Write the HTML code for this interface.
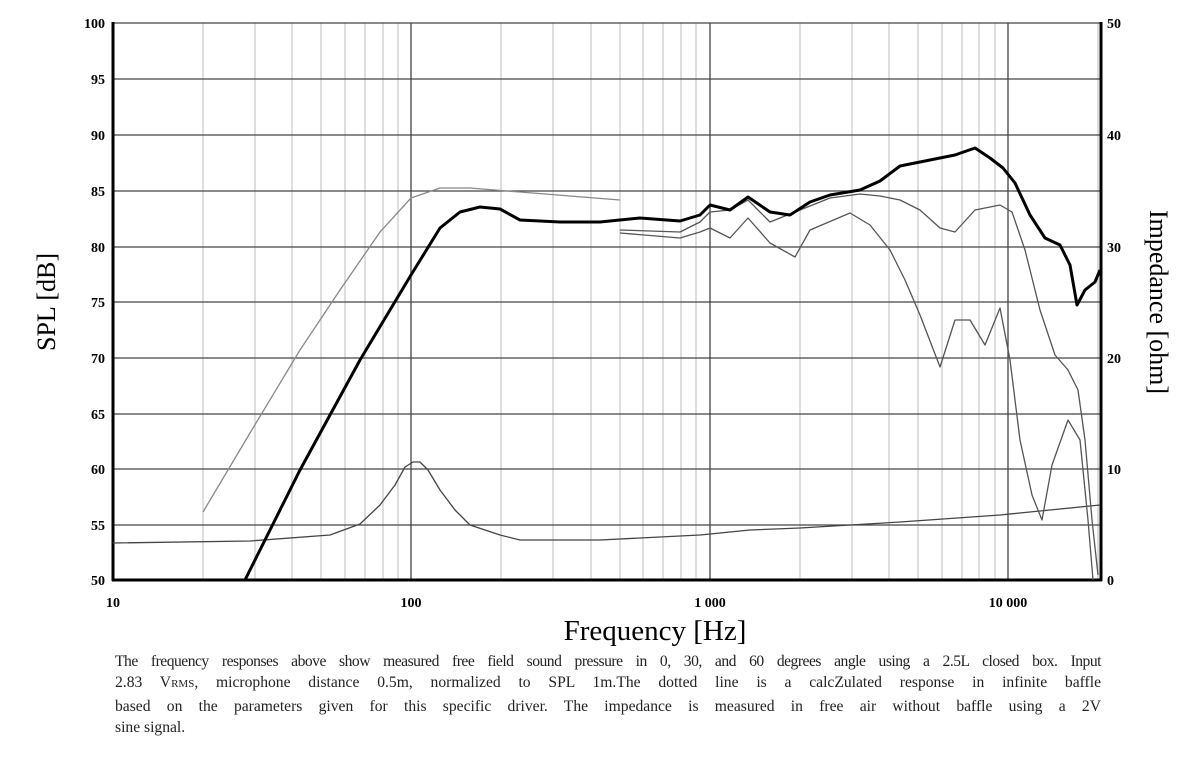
<!DOCTYPE html>
<html><head><meta charset="utf-8"><style>
body{margin:0;background:#fff;width:1179px;height:767px;overflow:hidden;font-family:"Liberation Serif",serif}
.cap{position:absolute;left:115px;top:651px;width:986px;font-size:15.6px;line-height:21.3px;color:#222}
.cap div{text-align:justify;text-align-last:justify;white-space:nowrap}
.cap div.l{text-align-last:left}
</style></head><body>
<svg width="1179" height="767" style="position:absolute;left:0;top:0" font-family="Liberation Serif, serif">
<g stroke="#ccc" stroke-width="1.3">
<line x1="203" y1="23" x2="203" y2="580"/><line x1="255" y1="23" x2="255" y2="580"/><line x1="292" y1="23" x2="292" y2="580"/><line x1="321" y1="23" x2="321" y2="580"/><line x1="345" y1="23" x2="345" y2="580"/><line x1="365" y1="23" x2="365" y2="580"/><line x1="383" y1="23" x2="383" y2="580"/><line x1="398" y1="23" x2="398" y2="580"/>
<line x1="501" y1="23" x2="501" y2="580"/><line x1="553" y1="23" x2="553" y2="580"/><line x1="591" y1="23" x2="591" y2="580"/><line x1="620" y1="23" x2="620" y2="580"/><line x1="643" y1="23" x2="643" y2="580"/><line x1="663" y1="23" x2="663" y2="580"/><line x1="681" y1="23" x2="681" y2="580"/><line x1="696" y1="23" x2="696" y2="580"/>
<line x1="800" y1="23" x2="800" y2="580"/><line x1="852" y1="23" x2="852" y2="580"/><line x1="889" y1="23" x2="889" y2="580"/><line x1="918" y1="23" x2="918" y2="580"/><line x1="942" y1="23" x2="942" y2="580"/><line x1="962" y1="23" x2="962" y2="580"/><line x1="979" y1="23" x2="979" y2="580"/><line x1="995" y1="23" x2="995" y2="580"/>
<line x1="1098" y1="23" x2="1098" y2="580"/>
</g>
<g stroke="#444" stroke-width="1.3">
<line x1="411" y1="23" x2="411" y2="580"/><line x1="710" y1="23" x2="710" y2="580"/><line x1="1008" y1="23" x2="1008" y2="580"/>
<line x1="113" y1="23" x2="1100" y2="23"/><line x1="113" y1="79" x2="1100" y2="79"/><line x1="113" y1="135" x2="1100" y2="135"/><line x1="113" y1="191" x2="1100" y2="191"/><line x1="113" y1="247" x2="1100" y2="247"/><line x1="113" y1="302" x2="1100" y2="302"/><line x1="113" y1="358" x2="1100" y2="358"/><line x1="113" y1="414" x2="1100" y2="414"/><line x1="113" y1="469" x2="1100" y2="469"/><line x1="113" y1="525" x2="1100" y2="525"/>
</g>
<g stroke="#000" stroke-width="3" fill="none">
<line x1="113" y1="22" x2="113" y2="581"/><line x1="1101" y1="22" x2="1101" y2="581"/><line x1="112" y1="580" x2="1102" y2="580"/>
</g>
<g fill="none" stroke-linejoin="round">
<polyline stroke="#888" stroke-width="1.3" points="203,512 250,433 300,350 340,290 380,232 411,198 440,188 470,188 520,192 620,200"/>
<polyline stroke="#444" stroke-width="1.3" points="113,543 250,541 330,535 360,524 380,505 395,485 405,467 413,462 420,462 428,470 440,490 455,510 470,525 500,535 520,540 600,540 700,535 750,530 800,528 900,522 1000,515 1100,505"/>
<polyline stroke="#555" stroke-width="1.3" points="620,230 680,232 700,222 710,212 730,210 748,200 770,222 800,210 830,198 860,194 880,196 900,200 920,210 940,228 955,232 975,210 1000,205 1012,212 1025,250 1040,310 1055,355 1068,370 1078,390 1085,440 1092,520 1098,575"/>
<polyline stroke="#555" stroke-width="1.3" points="620,233 680,238 700,232 710,228 730,238 748,218 770,243 795,257 810,230 850,213 870,225 890,250 905,280 920,315 940,367 955,320 970,320 985,345 1000,308 1010,360 1020,440 1032,495 1042,520 1052,465 1068,420 1080,440 1088,520 1093,580"/>
<polyline stroke="#000" stroke-width="3" points="245,580 270,530 300,470 330,415 360,360 390,310 411,275 440,228 460,212 480,207 500,209 520,220 560,222 600,222 640,218 680,221 700,215 710,205 730,210 748,197 770,212 790,215 810,202 830,195 860,190 880,181 900,166 930,160 955,155 975,148 990,158 1003,168 1015,183 1030,215 1045,238 1060,245 1070,265 1077,305 1085,290 1095,282 1100,270"/>
</g>
<g font-weight="bold" font-size="14" text-anchor="end">
<text x="105" y="28">100</text><text x="105" y="84">95</text><text x="105" y="140">90</text><text x="105" y="196">85</text><text x="105" y="252">80</text><text x="105" y="307">75</text><text x="105" y="363">70</text><text x="105" y="419">65</text><text x="105" y="474">60</text><text x="105" y="530">55</text><text x="105" y="585">50</text>
</g>
<g font-weight="bold" font-size="14">
<text x="1107" y="28">50</text><text x="1107" y="140">40</text><text x="1107" y="252">30</text><text x="1107" y="363">20</text><text x="1107" y="474">10</text><text x="1107" y="585">0</text>
</g>
<g font-weight="bold" font-size="14" text-anchor="middle">
<text x="113" y="607">10</text><text x="411" y="607">100</text><text x="710" y="607">1 000</text><text x="1008" y="607">10 000</text>
</g>
<text x="655" y="640" font-size="29" text-anchor="middle">Frequency [Hz]</text>
<text transform="translate(55,302) rotate(-90)" font-size="26" text-anchor="middle">SPL [dB]</text>
<text transform="translate(1150,302) rotate(90)" font-size="26" text-anchor="middle">Impedance [ohm]</text>
</svg>
<div class="cap">
<div style="letter-spacing:-0.5px;word-spacing:-2px">The frequency responses above show measured free field sound pressure in 0, 30, and 60 degrees angle using a 2.5L closed box. Input</div>
<div>2.83 V<span style="font-size:11px">RMS</span>, microphone distance 0.5m, normalized to SPL 1m.The dotted line is a calcZulated response in infinite baffle</div>
<div>based on the parameters given for this specific driver. The impedance is measured in free air without baffle using a 2V</div>
<div class="l">sine signal.</div>
</div>
</body></html>
